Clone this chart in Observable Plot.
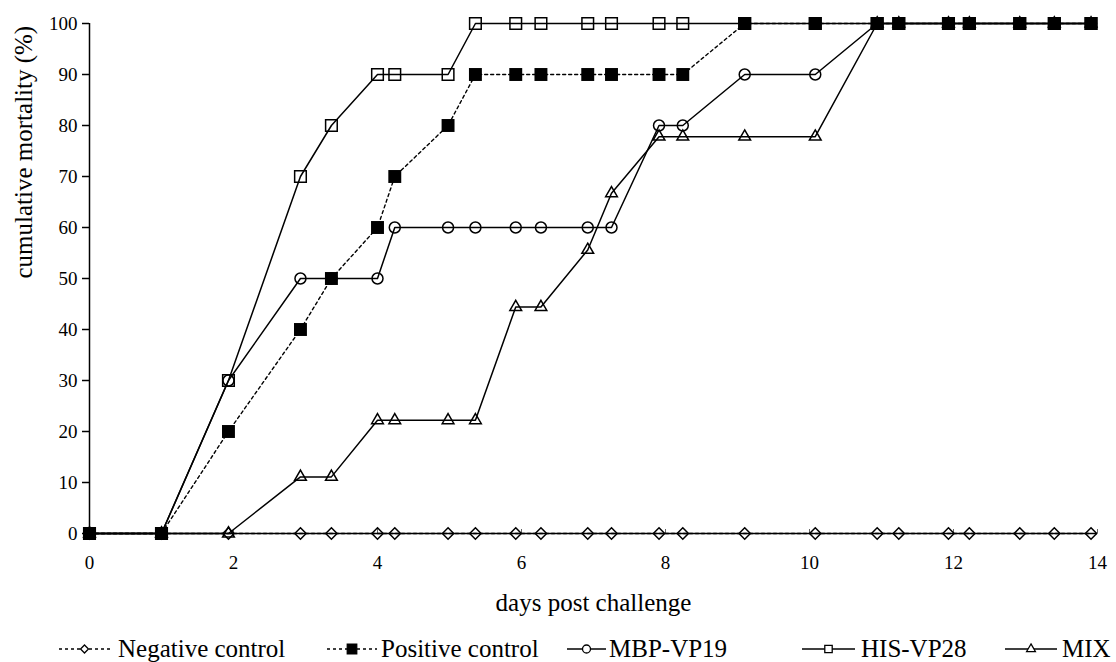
<!DOCTYPE html>
<html><head><meta charset="utf-8">
<script src="https://cdn.jsdelivr.net/npm/d3@7"></script>
<script src="https://cdn.jsdelivr.net/npm/@observablehq/plot@0.6"></script>
<style>
body{margin:0;background:#fff;font-family:"Liberation Serif","Times New Roman",Times,"DejaVu Serif",serif;}
#chart{width:1116px;}
#chart svg{display:block;}
#chart svg text{font-family:"Liberation Serif","Times New Roman",Times,"DejaVu Serif",serif !important;}
</style></head><body><div id="chart"></div>
<script>
// ---- data ----
const days = [0, 1, 1.93, 2.93, 3.36, 4.0, 4.24, 4.98, 5.36, 5.92, 6.27, 6.92, 7.25, 7.91, 8.24, 9.1, 10.08, 10.94, 11.24, 11.93, 12.22, 12.92, 13.40, 13.91];
const negativeControl = [0,0,0,0,0,0,0,0,0,0,0,0,0,0,0,0,0,0,0,0,0,0,0,0];
const positiveControl = [0,0,20,40,50,60,70,80,90,90,90,90,90,90,90,100,100,100,100,100,100,100,100,100];
const mbpVP19 = [0,0,30,50,50,50,60,60,60,60,60,60,60,80,80,90,90,100,100,100,100,100,100,100];
const hisVP28 = [0,0,30,70,80,90,90,90,100,100,100,100,100,100,100,100,100,100,100,100,100,100,100,100];
const mix = [0,0,0,11.1,11.1,22.2,22.2,22.2,22.2,44.4,44.4,55.6,66.7,77.8,77.8,77.8,77.8,100,100,100,100,100,100,100];
const seriesNames = ["Negative control", "Positive control", "MBP-VP19", "HIS-VP28", "MIX"];
const xTicks = [0, 2, 4, 6, 8, 10, 12, 14];
const yTicks = [0, 10, 20, 30, 40, 50, 60, 70, 80, 90, 100];
const xTitle = "days post challenge";
const yTitle = "cumulative mortality (%)";

const rows = (name, vals) => days.map((d, i) => ({series: name, day: d, value: vals[i]}));
const negRows = rows(seriesNames[0], negativeControl);
const posRows = rows(seriesNames[1], positiveControl);
const mbpRows = rows(seriesNames[2], mbpVP19);
const hisRows = rows(seriesNames[3], hisVP28);
const mixRows = rows(seriesNames[4], mix);

const W = 1116, H = 628, mL = 89, mR = 19, mT = 23, mB = 95;
const frameH = H - mT - mB;
const font = "'Liberation Serif', 'Times New Roman', Times, 'DejaVu Serif', serif";
const lineOpts = {x: "day", y: "value", stroke: "#000", strokeWidth: 1.5};
const dash = "3,3";

const chart = Plot.plot({
  width: W, height: H,
  marginLeft: mL, marginRight: mR, marginTop: mT, marginBottom: mB,
  style: {fontFamily: font, fontSize: "19px", color: "#000", background: "#fff"},
  x: {domain: [0, 14]},
  y: {domain: [0, 100]},
  marks: [
    Plot.axisY(yTicks, {tickSize: 7, tickPadding: 5, label: null, fontSize: 19, stroke: "#000", strokeWidth: 1.5}),
    Plot.axisX(xTicks, {tickSize: 0, tickPadding: 22, label: null, fontSize: 19}),
    Plot.tickX(xTicks, {x: d => d, insetTop: frameH - 4, stroke: "#666", strokeWidth: 1}),
    Plot.ruleX([0], {stroke: "#000", strokeWidth: 1.5}),
    Plot.ruleY([0], {stroke: "#000", strokeWidth: 1.5}),
    Plot.line(mixRows, lineOpts),
    Plot.line(mbpRows, lineOpts),
    Plot.line(hisRows, lineOpts),
    Plot.line(posRows, {...lineOpts, strokeWidth: 1.4, strokeDasharray: dash}),
    Plot.line(negRows, {...lineOpts, strokeWidth: 1.4, strokeDasharray: dash}),
    Plot.dot(mixRows, {x: "day", y: "value", symbol: "triangle2", r: 5.6, stroke: "#000", strokeWidth: 1.5, fill: "none"}),
    Plot.dot(mbpRows, {x: "day", y: "value", symbol: "circle", r: 5.5, stroke: "#000", strokeWidth: 1.5, fill: "none"}),
    Plot.dot(hisRows, {x: "day", y: "value", symbol: "square2", r: 7.4, stroke: "#000", strokeWidth: 1.5, fill: "none"}),
    Plot.dot(posRows, {x: "day", y: "value", symbol: "square", r: 7.3, fill: "#000", stroke: "none"}),
    Plot.dot(negRows, {x: "day", y: "value", symbol: "diamond2", r: 5.1, stroke: "#000", strokeWidth: 1.5, fill: "none"}),
    Plot.text([yTitle], {frameAnchor: "left", rotate: -90, dx: -58, lineAnchor: "bottom", fontSize: 25, fill: "#000"}),
    Plot.text([xTitle], {frameAnchor: "bottom", dy: 77, lineAnchor: "bottom", fontSize: 25, fill: "#000"})
  ]
});
document.getElementById("chart").appendChild(chart);

// ---- legend below the chart ----
const legendItems = [
  {name: seriesNames[0], x1: 59, x2: 110, symbol: d3.symbolDiamond2, size: 40, fill: "none", dashed: true, tx: 118},
  {name: seriesNames[1], x1: 327, x2: 377, symbol: d3.symbolSquare, size: 90, fill: "#000", dashed: true, tx: 381},
  {name: seriesNames[2], x1: 567, x2: 606, symbol: d3.symbolCircle, size: 50, fill: "none", dashed: false, tx: 609},
  {name: seriesNames[3], x1: 802, x2: 855, symbol: d3.symbolSquare2, size: 70, fill: "none", dashed: false, tx: 861},
  {name: seriesNames[4], x1: 1005, x2: 1057, symbol: d3.symbolTriangle2, size: 55, fill: "none", dashed: false, tx: 1062}
];
const leg = d3.select("#chart").append("svg").attr("width", W).attr("height", 662 - H)
  .style("font-family", font);
const cy = 21;
for (const it of legendItems) {
  leg.append("line").attr("x1", it.x1).attr("x2", it.x2).attr("y1", cy).attr("y2", cy)
    .attr("stroke", "#000").attr("stroke-width", 1.5)
    .attr("stroke-dasharray", it.dashed ? dash : null);
  leg.append("path").attr("d", d3.symbol(it.symbol, it.size)())
    .attr("transform", `translate(${(it.x1 + it.x2) / 2},${cy})`)
    .attr("fill", it.fill === "none" ? "#fff" : it.fill).attr("stroke", "#000").attr("stroke-width", 1.3);
  leg.append("text").attr("x", it.tx).attr("y", 29).attr("font-size", 25).attr("fill", "#000").text(it.name);
}
</script>
</body></html>
